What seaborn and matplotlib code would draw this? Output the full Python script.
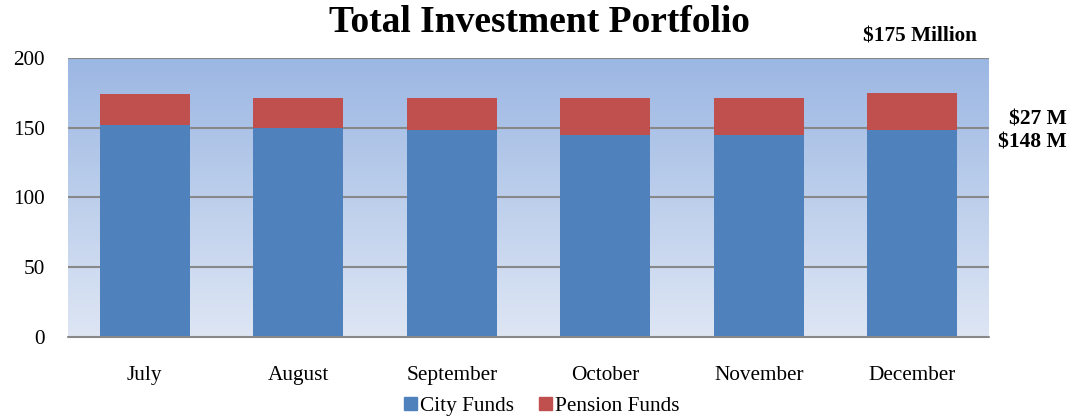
import numpy as np
import pandas as pd
import matplotlib
matplotlib.use("Agg")
import matplotlib.pyplot as plt
from matplotlib.patches import Patch
import seaborn as sns

months = ["July", "August", "September", "October", "November", "December"]
city_funds = [152, 150, 148, 145, 145, 148]
pension_funds = [22, 21.5, 23, 26, 26, 27]
yticks = [0, 50, 100, 150, 200]

sns.set_theme(style="white")
plt.rcParams['font.family'] = ['Liberation Serif', 'DejaVu Serif']
plt.rcParams['text.color'] = 'black'

df = pd.DataFrame({"Month": months, "City": city_funds, "Pension": pension_funds})
df["Total"] = df["City"] + df["Pension"]

fig = plt.figure(figsize=(10.86, 4.18), dpi=100)
ax = fig.add_axes([0.0626, 0.1945, 0.848, 0.6667])

# gradient background
grad = np.linspace(0, 1, 256).reshape(-1, 1)
top = np.array([155, 183, 227]) / 255
bot = np.array([222, 230, 244]) / 255
img = top[None, None, :] * (1 - grad[:, :, None]) + bot[None, None, :] * grad[:, :, None]
ax.imshow(img, extent=[0, 1, 0, 1], transform=ax.transAxes, aspect="auto", zorder=0)

sns.barplot(data=df, x="Month", y="Total", color="#C0504D", saturation=1, width=0.586,
            linewidth=0, ax=ax, zorder=3)
sns.barplot(data=df, x="Month", y="City", color="#4F81BD", saturation=1, width=0.586,
            linewidth=0, ax=ax, zorder=4)

ax.set_xlim(-0.5, 5.5)
ax.set_ylim(0, 200)
ax.set_yticks(yticks)
for y in yticks[1:]:
    ax.axhline(y, color="#888888", lw=1.5, zorder=2)
ax.axhline(0, color="#888888", lw=1.5, zorder=5, clip_on=False)
for s in ax.spines.values():
    s.set_visible(False)
ax.set_xlabel("")
ax.set_ylabel("")
ax.tick_params(axis="both", length=0, labelsize=15.3, colors="black")
ax.tick_params(axis="x", pad=21)
ax.tick_params(axis="y", pad=16.5)

fig.text(0.497, 0.945, "Total Investment Portfolio", ha="center", va="center",
         fontsize=27, fontweight="bold")
fig.text(0.847, 0.912, "$175 Million", ha="center", va="center", fontsize=15.3, fontweight="bold")
fig.text(0.982, 0.715, "$27 M", ha="right", va="center", fontsize=15.5, fontweight="bold")
fig.text(0.982, 0.658, "$148 M", ha="right", va="center", fontsize=15.5, fontweight="bold")

handles = [Patch(color="#4F81BD", label="City Funds"), Patch(color="#C0504D", label="Pension Funds")]
fig.legend(handles=handles, loc="center", bbox_to_anchor=(0.499, 0.028), ncol=2, frameon=False,
           fontsize=15.3, handlelength=0.6, handleheight=0.6, handletextpad=0.15, columnspacing=1.2)

fig.savefig("out.png", dpi=100)
